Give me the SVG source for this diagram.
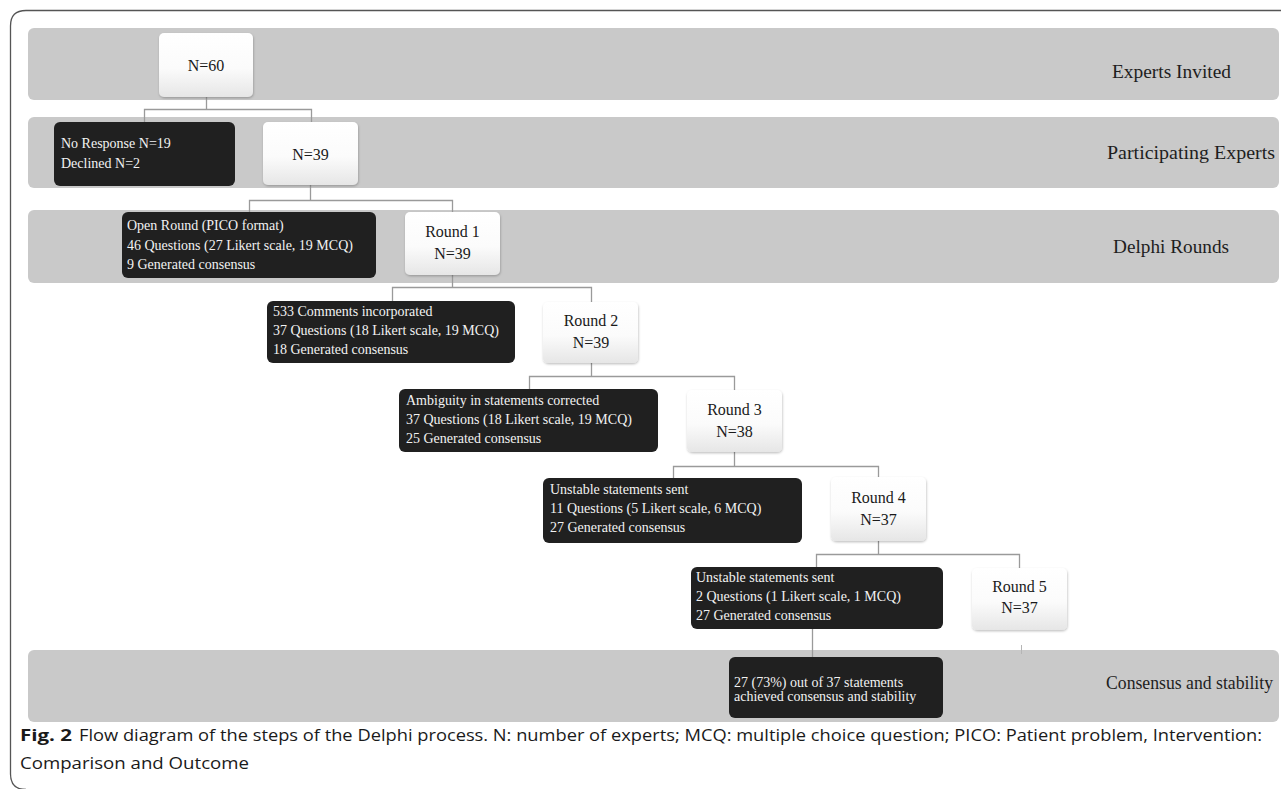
<svg xmlns="http://www.w3.org/2000/svg" width="1281" height="789" viewBox="0 0 1281 789">
<style>
.band{fill:#c9c9c9}
.blabel{font-family:"Liberation Serif","Times New Roman",serif;font-size:19px;fill:#1e1e1e}
.dark{fill:#202020}
.dtext{font-family:"Liberation Serif","Times New Roman",serif;font-size:14px;fill:#f2f2f2}
.light{fill:url(#lg);filter:url(#sh)}
.ltext{font-family:"Liberation Serif","Times New Roman",serif;font-size:16px;fill:#1a1a1a;text-anchor:middle}
.conn{fill:none;stroke:#9a9a9a;stroke-width:1.3}
.cap{font-family:"Liberation Sans Narrow","Open Sans","Liberation Sans",sans-serif;font-size:16.5px;fill:#1a1a1a}
</style>
<defs>
<linearGradient id="lg" x1="0" y1="0" x2="0" y2="1">
<stop offset="0" stop-color="#ffffff"/>
<stop offset="0.55" stop-color="#fbfbfb"/>
<stop offset="1" stop-color="#e6e6e6"/>
</linearGradient>
<filter id="sh" x="-10%" y="-10%" width="120%" height="125%">
<feDropShadow dx="0.5" dy="1.2" stdDeviation="1.2" flood-color="#000" flood-opacity="0.25"/>
</filter>
</defs>
<rect width="1281" height="789" fill="#ffffff"/>
<path d="M1281,10.5 H26 Q10.5,10.5 10.5,26 V774 Q10.5,789.5 26,789.5" fill="none" stroke="#555" stroke-width="1.3"/>

<g id="bands">
<rect class="band" x="28" y="28" width="1251" height="72" rx="6"/>
<rect class="band" x="28" y="117" width="1251" height="71" rx="6"/>
<rect class="band" x="28" y="210" width="1251" height="73" rx="6"/>
<rect class="band" x="28" y="650" width="1251" height="72" rx="6"/>
<text class="blabel" x="1112" y="78" textLength="119" lengthAdjust="spacingAndGlyphs">Experts Invited</text>
<text class="blabel" x="1107" y="159" textLength="168" lengthAdjust="spacingAndGlyphs">Participating Experts</text>
<text class="blabel" x="1113" y="253" textLength="116" lengthAdjust="spacingAndGlyphs">Delphi Rounds</text>
<text class="blabel" x="1106" y="689" style="font-size:17.8px" textLength="167" lengthAdjust="spacingAndGlyphs">Consensus and stability</text>
</g>

<g id="connectors">
<path class="conn" d="M206.5,97 V109.5 M144.5,122 V109.5 H311.5 V122"/>
<path class="conn" d="M310.5,185 V200.5 M249.5,212 V200.5 H452.5 V212"/>
<path class="conn" d="M452.5,275 V287.5 M392.5,301 V287.5 H591.5 V302"/>
<path class="conn" d="M591.5,363 V376.5 M529.5,389 V376.5 H734.5 V390"/>
<path class="conn" d="M734.5,452 V466.5 M673.5,478 V466.5 H878.5 V477"/>
<path class="conn" d="M878.5,541 V554.5 M816.5,567 V554.5 H1019.5 V568"/>
<path class="conn" d="M812.5,622 V657"/>
<path d="M1021.5,645 V654" fill="none" stroke="#b5b5b5" stroke-width="1"/>
</g>

<g id="n60">
<rect class="light" x="159" y="33" width="94" height="64" rx="5"/>
<text class="ltext" x="206" y="71">N=60</text>
</g>
<g id="noresponse">
<rect class="dark" x="54" y="122" width="181" height="64" rx="6"/>
<text class="dtext" x="61" y="148">No Response N=19</text>
<text class="dtext" x="61" y="168">Declined N=2</text>
</g>
<g id="n39">
<rect class="light" x="263" y="122" width="95" height="63" rx="5"/>
<text class="ltext" x="310.5" y="160">N=39</text>
</g>
<g id="openround">
<rect class="dark" x="122" y="212" width="254" height="66" rx="6"/>
<text class="dtext" x="127" y="230">Open Round (PICO format)</text>
<text class="dtext" x="127" y="250">46 Questions (27 Likert scale, 19 MCQ)</text>
<text class="dtext" x="127" y="269">9 Generated consensus</text>
</g>
<g id="round1">
<rect class="light" x="405" y="212" width="95" height="63" rx="5"/>
<text class="ltext" x="452.5" y="237">Round 1</text>
<text class="ltext" x="452.5" y="259">N=39</text>
</g>
<g id="comments">
<rect class="dark" x="267" y="301" width="248" height="62" rx="6"/>
<text class="dtext" x="273" y="316">533 Comments incorporated</text>
<text class="dtext" x="273" y="335">37 Questions (18 Likert scale, 19 MCQ)</text>
<text class="dtext" x="273" y="354">18 Generated consensus</text>
</g>
<g id="round2">
<rect class="light" x="543" y="302" width="95" height="61" rx="5"/>
<text class="ltext" x="591" y="326">Round 2</text>
<text class="ltext" x="591" y="348">N=39</text>
</g>
<g id="ambiguity">
<rect class="dark" x="399" y="389" width="259" height="63" rx="6"/>
<text class="dtext" x="406" y="405">Ambiguity in statements corrected</text>
<text class="dtext" x="406" y="424">37 Questions (18 Likert scale, 19 MCQ)</text>
<text class="dtext" x="406" y="443">25 Generated consensus</text>
</g>
<g id="round3">
<rect class="light" x="687" y="390" width="95" height="62" rx="5"/>
<text class="ltext" x="734.5" y="415">Round 3</text>
<text class="ltext" x="734.5" y="437">N=38</text>
</g>
<g id="unstable1">
<rect class="dark" x="543" y="478" width="259" height="65" rx="6"/>
<text class="dtext" x="550" y="494">Unstable statements sent</text>
<text class="dtext" x="550" y="513">11 Questions (5 Likert scale, 6 MCQ)</text>
<text class="dtext" x="550" y="532">27 Generated consensus</text>
</g>
<g id="round4">
<rect class="light" x="831" y="477" width="95" height="64" rx="5"/>
<text class="ltext" x="878.5" y="503">Round 4</text>
<text class="ltext" x="878.5" y="525">N=37</text>
</g>
<g id="unstable2">
<rect class="dark" x="691" y="567" width="252" height="62" rx="6"/>
<text class="dtext" x="696" y="582">Unstable statements sent</text>
<text class="dtext" x="696" y="601">2 Questions (1 Likert scale, 1 MCQ)</text>
<text class="dtext" x="696" y="620">27 Generated consensus</text>
</g>
<g id="round5">
<rect class="light" x="972" y="568" width="95" height="62" rx="5"/>
<text class="ltext" x="1019.5" y="592">Round 5</text>
<text class="ltext" x="1019.5" y="613">N=37</text>
</g>
<g id="consensus">
<rect class="dark" x="729" y="657" width="214" height="61" rx="6"/>
<text class="dtext" x="734" y="687">27 (73%) out of 37 statements</text>
<text class="dtext" x="734" y="701">achieved consensus and stability</text>
</g>

<g id="caption">
<text class="cap" x="20" y="741" font-weight="bold" textLength="52" lengthAdjust="spacingAndGlyphs">Fig. 2</text>
<text class="cap" x="79" y="741" textLength="1183" lengthAdjust="spacingAndGlyphs">Flow diagram of the steps of the Delphi process. N: number of experts; MCQ: multiple choice question; PICO: Patient problem, Intervention:</text>
<text class="cap" x="20" y="769" textLength="229" lengthAdjust="spacingAndGlyphs">Comparison and Outcome</text>
</g>
</svg>
